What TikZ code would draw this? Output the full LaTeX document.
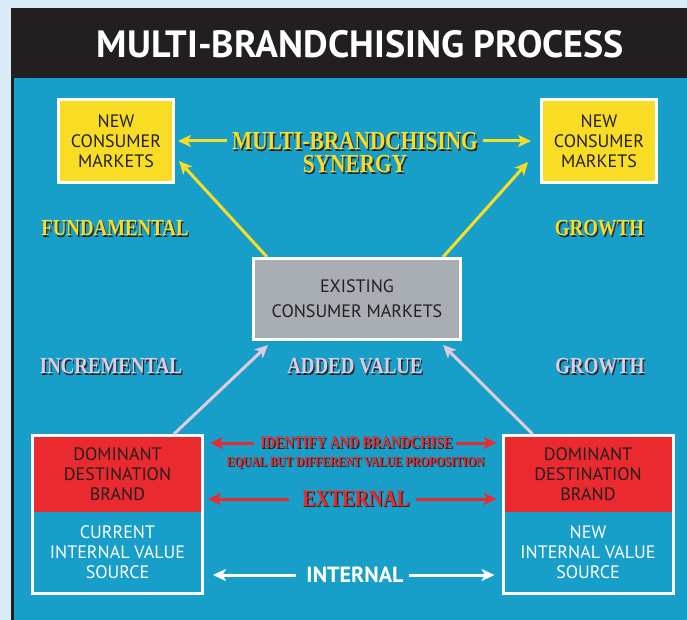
\documentclass[tikz,border=0pt]{standalone}
\usepackage{fontspec}
\setmainfont{PT Sans}
\newfontfamily\labelfont[FakeStretch=0.82]{Liberation Serif}
\usetikzlibrary{arrows.meta,fit,calc}

\definecolor{pagebg}{HTML}{D9EBF7}
\definecolor{framedark}{HTML}{231F20}
\definecolor{panelblue}{HTML}{179FC9}
\definecolor{ymarket}{HTML}{F9DD24}
\definecolor{ylabel}{HTML}{F9DD24}
\definecolor{greybox}{HTML}{A9AEB4}
\definecolor{redbrand}{HTML}{EA2A2F}
\definecolor{lavender}{HTML}{DFCCDF}
\definecolor{inkdark}{HTML}{231F20}
\definecolor{shadowc}{HTML}{2A2526}

% text with a small dark drop shadow
\newcommand{\shd}[1]{\leavevmode\rlap{\kern1.3pt\raisebox{-1.3pt}{\textcolor{shadowc}{#1}}}#1}

\tikzset{
  boxtext/.style={font=\fontsize{18}{20}\selectfont, align=center, inner sep=0pt, outer sep=0pt},
  market/.style={boxtext, draw=white, line width=3pt, fill=ymarket, text=inkdark,
    minimum width=115pt, minimum height=83pt, outer sep=1.5pt},
  existing/.style={boxtext, font=\fontsize{18}{25}\selectfont, draw=white, line width=3pt,
    fill=greybox, text=inkdark, minimum width=207pt, minimum height=81pt, outer sep=1.5pt},
  brandtop/.style={boxtext, fill=redbrand, text=inkdark, minimum width=167pt, minimum height=75pt},
  brandbottom/.style={boxtext, fill=panelblue, text=white, minimum width=167pt, minimum height=80pt},
  brandframe/.style={draw=white, line width=3pt, inner sep=1.5pt, outer sep=1.5pt},
  lab/.style={font=\labelfont\bfseries\fontsize{23}{22}\selectfont, inner sep=0pt, align=center},
  ylab/.style={lab, text=ylabel},
  llab/.style={lab, text=lavender},
  rlab/.style={lab, text=redbrand},
  tip/.style={-{Stealth[length=13pt,width=12pt,inset=3.5pt]}},
  yarrow/.style={tip, draw=ylabel, line width=3pt},
  larrow/.style={tip, draw=lavender, line width=3pt},
  rarrow/.style={tip, draw=redbrand, line width=3pt},
  warrow/.style={tip, draw=white, line width=3pt},
}

\begin{document}
\begin{tikzpicture}[x=1pt,y=-1pt]
\useasboundingbox (0,0) rectangle (687,620);
% page, frame and panel
\fill[pagebg] (0,0) rectangle (687,620);
\fill[framedark] (10.5,8) rectangle (687,620);
\fill[panelblue] (14,78) rectangle (687,620);

\node[text=white, font=\bfseries\fontsize{38}{40}\selectfont, inner sep=0pt] (title) at (360.5,44) {MULTI-BRANDCHISING PROCESS};

% markets
\node[market] (ncmL) at (116,141) {NEW\\CONSUMER\\MARKETS};
\node[market] (ncmR) at (599,141) {NEW\\CONSUMER\\MARKETS};
\node[existing] (ecm) at (357,299) {EXISTING\\CONSUMER MARKETS};

% brand boxes
\node[brandtop] (ddbL) at (117.5,474.5) {DOMINANT\\DESTINATION\\BRAND};
\node[brandbottom] (ivsL) at (117.5,552) {CURRENT\\INTERNAL VALUE\\SOURCE};
\node[brandframe, fit=(ddbL)(ivsL)] (brandL) {};
\node[brandtop] (ddbR) at (588,474.5) {DOMINANT\\DESTINATION\\BRAND};
\node[brandbottom] (ivsR) at (588,552) {NEW\\INTERNAL VALUE\\SOURCE};
\node[brandframe, fit=(ddbR)(ivsR)] (brandR) {};

% labels
\node[ylab, font=\labelfont\bfseries\fontsize{26}{23}\selectfont] (syn) at (355,153.5) {\shd{MULTI-BRANDCHISING}\\\shd{SYNERGY}};
\node[ylab] (fund) at (115,229) {\shd{FUNDAMENTAL}};
\node[ylab] (growA) at (599.5,229) {\shd{GROWTH}};
\node[llab] (incr) at (111,367) {\shd{INCREMENTAL}};
\node[llab] (added) at (355,367) {\shd{ADDED VALUE}};
\node[llab] (growB) at (600,367) {\shd{GROWTH}};
\node[rlab, font=\labelfont\bfseries\fontsize{16.5}{16}\selectfont] (idf) at (356.5,443) {\shd{IDENTIFY AND BRANDCHISE}};
\node[rlab, font=\labelfont\bfseries\fontsize{13.8}{13}\selectfont] (eq) at (355.5,463.5) {\shd{EQUAL BUT DIFFERENT VALUE PROPOSITION}};
\node[rlab, font=\labelfont\bfseries\fontsize{23.5}{23}\selectfont] (ext) at (356,499) {\shd{EXTERNAL}};
\node[text=white, font=\bfseries\fontsize{22}{22}\selectfont, inner sep=0pt] (int) at (355,575) {INTERNAL};

% synergy arrows
\draw[yarrow, shorten >=3pt] (ncmL.east -| syn.west) ++(-5,0) -- (ncmL.east);
\draw[yarrow, shorten >=9pt] (ncmR.west -| syn.east) ++(5,0) -- (ncmR.west);
\draw[yarrow] ($(ecm.north west)+(15,0)$) -- ($(ncmL.east)+(4,20)$);
\draw[yarrow] ($(ecm.north east)+(-19,0)$) -- ($(ncmR.west)+(-12,21)$);

% added value arrows
\draw[larrow] ($(brandL.north east)+(-30,0)$) -- ($(ecm.south west)+(16,4)$);
\draw[larrow] ($(brandR.north west)+(31,0)$) -- ($(ecm.south east)+(-19,4)$);

% external and internal arrows
\draw[rarrow, shorten <=6pt, shorten >=6pt] (idf.west) -- (idf.west -| brandL.east);
\draw[rarrow, shorten <=3pt, shorten >=5pt] (idf.east) -- (idf.east -| brandR.west);
\draw[rarrow, shorten <=13pt, shorten >=4pt] (ext.west) -- (ext.west -| brandL.east);
\draw[rarrow, shorten <=6pt, shorten >=5pt] (ext.east) -- (ext.east -| brandR.west);
\draw[warrow, shorten <=10pt, shorten >=9pt] (int.west) -- (int.west -| brandL.east);
\draw[warrow, shorten <=5pt, shorten >=7pt] (int.east) -- (int.east -| brandR.west);
\end{tikzpicture}
\end{document}
